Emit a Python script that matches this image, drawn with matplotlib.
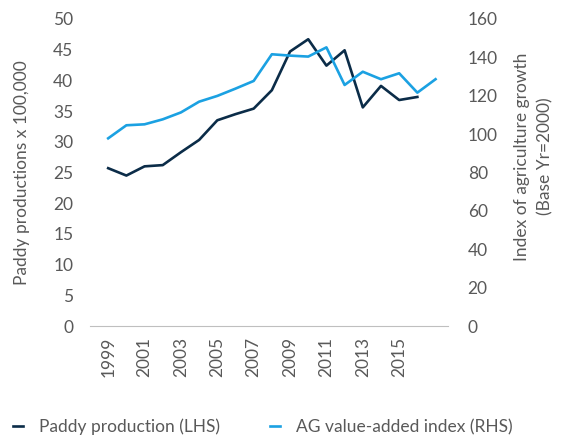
import matplotlib.pyplot as plt
import numpy as np

plt.rcParams['font.family'] = ['Lato', 'DejaVu Sans']

# Datos
years_paddy = list(range(1999, 2017))
paddy = [25.7, 24.5, 26.0, 26.2, 28.3, 30.3, 33.5, 34.5, 35.4, 38.4,
         44.7, 46.7, 42.4, 44.9, 35.6, 39.1, 36.8, 37.3]

years_ag = list(range(1999, 2018))
ag_index = [97.8, 104.6, 105.1, 107.7, 111.3, 116.9, 119.9, 123.7, 127.7, 141.6,
            140.9, 140.4, 145.2, 125.6, 132.5, 128.6, 131.7, 121.6, 128.6]

xticks = list(range(1999, 2016, 2))

dark = "#0b2c48"
light = "#1ba1e2"
grey = "#595959"

fig = plt.figure(figsize = (5.66, 4.38), dpi = 100)
ax = fig.add_axes([0.159, 0.2557, 0.633, 0.701])
ax2 = ax.twinx()

l1, = ax.plot(years_paddy, paddy, color = dark, linewidth = 1.9, label = "Paddy production (LHS)")
l2, = ax2.plot(years_ag, ag_index, color = light, linewidth = 1.9, label = "AG value-added index (RHS)")

ax.set_xlim(1998.0, 2017.7)
ax.set_ylim(0, 50)
ax2.set_ylim(0, 160)
ax.set_yticks(np.arange(0, 51, 5))
ax2.set_yticks(np.arange(0, 161, 20))
ax.set_xticks(xticks)
ax.set_xticklabels([str(y) for y in xticks], rotation = 90)

for a in (ax, ax2) :
    for s in a.spines.values() :
        s.set_visible(False)
    a.tick_params(length = 0, labelsize = 12.5, labelcolor = grey)
ax.spines['bottom'].set_visible(True)
ax.spines['bottom'].set_color("#bfbfbf")
ax.tick_params(axis = 'y', pad = 12)
ax2.tick_params(axis = 'y', pad = 14)
ax.tick_params(axis = 'x', pad = 8)

fig.text(0.038, 0.605, "Paddy productions x 100,000", rotation = 90, ha = 'center', va = 'center',
         fontsize = 12.5, color = grey)
fig.text(0.943, 0.643, "Index of agriculture growth\n(Base Yr=2000)", rotation = 90, ha = 'center',
         va = 'center', fontsize = 12.5, color = grey, linespacing = 1.6)

fig.legend(handles = [l1, l2], loc = 'center left', bbox_to_anchor = (0.013, 0.025), ncol = 2,
           frameon = False, fontsize = 12.5, handlelength = 0.6, handletextpad = 0.9,
           columnspacing = 2.9, labelcolor = grey, borderpad = 0.1, borderaxespad = 0.2)

fig.savefig("out.png", dpi = 100)
